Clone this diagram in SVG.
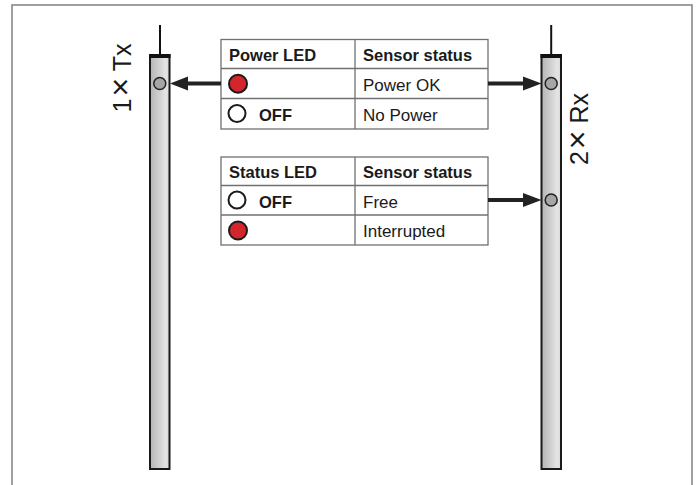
<svg xmlns="http://www.w3.org/2000/svg" width="697" height="485" viewBox="0 0 697 485">
<style>
  .frame{fill:none;stroke:#808080;stroke-width:1.5}
  .bar{fill:url(#barGrad);stroke:#1a1a1a;stroke-width:2}
  .cap{fill:#111}
  .ant{stroke:#111;stroke-width:2}
  .led{fill:#a6a6a6;stroke:#222;stroke-width:1.5}
  .tbl{fill:#fff;stroke:#707070;stroke-width:1.3}
  .grid{stroke:#707070;stroke-width:1.3}
  .hdr{font-family:"Liberation Sans",Arial,sans-serif;font-size:16.5px;font-weight:bold;fill:#1a1a1a}
  .txt{font-family:"Liberation Sans",Arial,sans-serif;font-size:17px;fill:#1a1a1a}
  .lbl{font-family:"Liberation Sans",Arial,sans-serif;font-size:25px;fill:#1a1a1a}
  .mul{font-size:32px}
  .red{fill:#d3262c;stroke:#1a1a1a;stroke-width:2}
  .off{fill:#fff;stroke:#1a1a1a;stroke-width:2}
  .arrow{stroke:#222;stroke-width:4;fill:none}
  .head{fill:#222}
</style>
<defs>
  <linearGradient id="barGrad" x1="0" y1="0" x2="1" y2="0">
    <stop offset="0" stop-color="#b4b4b4"/>
    <stop offset="0.8" stop-color="#e4e4e4"/>
    <stop offset="1" stop-color="#d8d8d8"/>
  </linearGradient>
</defs>
<path class="frame" d="M12,486 V5 H692 V486"/>

<g id="tx">
  <line class="ant" x1="160" y1="25" x2="160" y2="55"/>
  <rect class="bar" x="150" y="55" width="19.5" height="414"/>
  <rect class="cap" x="149" y="54" width="21.5" height="4"/>
  <circle class="led" cx="159.8" cy="83.5" r="6"/>
  <text class="lbl" transform="translate(131,78) rotate(-90)" text-anchor="middle">1<tspan class="mul" dx="2">×</tspan> Tx</text>
</g>

<g id="rx">
  <line class="ant" x1="551.2" y1="25" x2="551.2" y2="55"/>
  <rect class="bar" x="541.5" y="55" width="19.5" height="414"/>
  <rect class="cap" x="540.5" y="54" width="21.5" height="4"/>
  <circle class="led" cx="551.2" cy="83.5" r="6"/>
  <circle class="led" cx="551.2" cy="200" r="6"/>
  <text class="lbl" transform="translate(588,129) rotate(-90)" text-anchor="middle">2<tspan class="mul" dx="2">×</tspan> Rx</text>
</g>

<g id="power-table">
  <rect class="tbl" x="221" y="39.5" width="267" height="89.5"/>
  <line class="grid" x1="221" y1="68.5" x2="488" y2="68.5"/>
  <line class="grid" x1="221" y1="98.5" x2="488" y2="98.5"/>
  <line class="grid" x1="355" y1="39.5" x2="355" y2="129"/>
  <text class="hdr" x="229" y="61">Power LED</text>
  <text class="hdr" x="363" y="61">Sensor status</text>
  <circle class="red" cx="238" cy="83.7" r="9"/>
  <text class="txt" x="363" y="91">Power OK</text>
  <circle class="off" cx="237" cy="113.5" r="8.5"/>
  <text class="hdr" x="259" y="121">OFF</text>
  <text class="txt" x="363" y="121">No Power</text>
</g>

<g id="status-table">
  <rect class="tbl" x="221" y="157" width="267" height="88"/>
  <line class="grid" x1="221" y1="185.5" x2="488" y2="185.5"/>
  <line class="grid" x1="221" y1="215" x2="488" y2="215"/>
  <line class="grid" x1="355" y1="157" x2="355" y2="245"/>
  <text class="hdr" x="229" y="178">Status LED</text>
  <text class="hdr" x="363" y="178">Sensor status</text>
  <circle class="off" cx="237" cy="200" r="8.5"/>
  <text class="hdr" x="259" y="208">OFF</text>
  <text class="txt" x="363" y="208">Free</text>
  <circle class="red" cx="238" cy="230.5" r="9"/>
  <text class="txt" x="363" y="237">Interrupted</text>
</g>

<g id="connectors">
  <line class="arrow" x1="221" y1="83.5" x2="186" y2="83.5"/>
  <polygon class="head" points="170,83.5 188,76.5 188,90.5"/>
  <line class="arrow" x1="488" y1="83.5" x2="525" y2="83.5"/>
  <polygon class="head" points="541.5,83.5 523,76.5 523,90.5"/>
  <line class="arrow" x1="488" y1="200" x2="525" y2="200"/>
  <polygon class="head" points="541.5,200 523,193 523,207"/>
</g>
</svg>
